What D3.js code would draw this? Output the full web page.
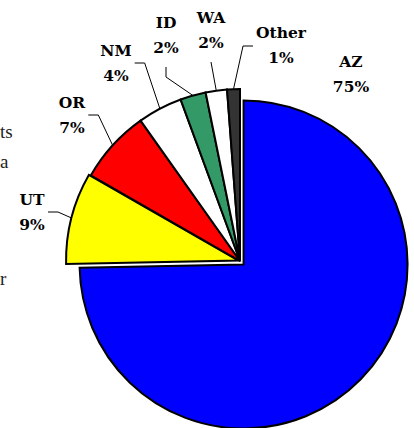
<!DOCTYPE html>
<meta charset="utf-8">
<head>
    <title>pie</title>
    <style>
        body {
          margin: 0;
          background: #fff;
        }
        .label text {
          font-family: "Palatino Linotype", "Book Antiqua", "DejaVu Serif", serif;
          font-weight: bold;
          font-size: 15.5px;
          fill: #000;
        }
        .page text {
          font-family: "Liberation Serif", "DejaVu Serif", serif;
          font-size: 19px;
          fill: #222;
        }
        .slices path {
          stroke: #000;
          stroke-width: 2;
          stroke-linejoin: miter;
        }
        .leaders path {
          fill: none;
          stroke: #000;
          stroke-width: 1;
        }
    </style>
</head>
<body>
    <svg width="414" height="428">
        <g class="page"></g>
        <g class="slices"></g>
        <g class="leaders"></g>
        <g class="label"></g>
    </svg>
    <script src="https://cdn.jsdelivr.net/npm/d3@7"></script>
    <script>
        const states = ['AZ', 'UT', 'OR', 'NM', 'ID', 'WA', 'Other'];
        const shares = [74.6, 8.6, 6.9, 4.2, 2.4, 2.0, 1.2];
        const colors = ['#0000ff', '#ffff00', '#ff0000', '#ffffff', '#339966', '#ffffff', '#333333'];

        // manual label spots (first baseline, relative to pie centre), like the source
        const labelAt = [[111, -194], [-208, -56], [-168, -153], [-124, -205], [-74, -233], [-29, -238], [41, -223]];
        // how the leader leaves the label: right, below, left, or none
        const leaderFrom = [null, 'right', 'right', 'right', 'below', 'below', 'left'];
        // slice pulled out from the centre
        const explode = [5, 2, 0, 0, 0, 0, 0];

        // ends of words of the page text to the left of the chart
        const pageWords = [['ts', 138], ['a', 168], ['r', 285]];

        const cx = 240, cy = 261, R = 172, Rbig = 164;

        let svg = d3.select('svg');

        svg.select('g.page')
            .selectAll('text')
            .data(pageWords)
            .enter()
            .append('text')
            .attr('x', 0)
            .attr('y', d => d[1])
            .text(d => d[0]);

        let total = d3.sum(shares);
        let arcs = d3.pie().sort(null).value(d => d)(shares);

        let arcGen = d3.arc().innerRadius(0);

        function sliceCentre(d, i) {
            let mid = (d.startAngle + d.endAngle) / 2;
            let off = d3.pointRadial(mid, explode[i]);
            return [cx + off[0], cy + off[1]];
        }

        svg.select('g.slices')
            .selectAll('path')
            .data(arcs)
            .enter()
            .append('path')
            .attr('transform', (d, i) => 'translate(' + sliceCentre(d, i) + ')')
            .attr('d', (d, i) => arcGen.outerRadius(i === 0 ? Rbig : R)(d))
            .style('fill', (d, i) => colors[i]);

        let labels = svg.select('g.label')
            .selectAll('g')
            .data(arcs)
            .enter()
            .append('g')
            .attr('transform', (d, i) => 'translate(' + (cx + labelAt[i][0]) + ',' + (cy + labelAt[i][1]) + ')');

        labels.append('text')
            .attr('class', 'name')
            .attr('text-anchor', 'middle')
            .text((d, i) => states[i]);

        labels.append('text')
            .attr('text-anchor', 'middle')
            .attr('y', 25)
            .text(d => Math.round(d.value / total * 100) + '%');

        let leaders = [];
        labels.each(function(d, i) {
            if (!leaderFrom[i]) return;
            let box = this.querySelector('text.name').getBBox();
            let lx = cx + labelAt[i][0], ly = cy + labelAt[i][1];
            let mid = (d.startAngle + d.endAngle) / 2;
            let c = sliceCentre(d, i);
            let p = d3.pointRadial(mid, R);
            let end = [c[0] + p[0], c[1] + p[1]];
            let pts;
            if (leaderFrom[i] === 'right') {
                let a = [lx + box.x + box.width + 3, ly + 7];
                pts = [a, [a[0] + 10, a[1]], end];
            } else if (leaderFrom[i] === 'left') {
                let a = [lx + box.x - 3, ly + 8];
                pts = [a, [a[0] - 10, a[1]], end];
            } else {
                let a = [lx, ly + 39];
                pts = end[1] - a[1] > 20 && Math.abs(end[0] - a[0]) > 10 ? [a, [a[0], a[1] + 10], end] : [a, end];
            }
            leaders.push(pts);
        });

        svg.select('g.leaders')
            .selectAll('path')
            .data(leaders)
            .enter()
            .append('path')
            .attr('d', d3.line());
    </script>
</body>
</html>
